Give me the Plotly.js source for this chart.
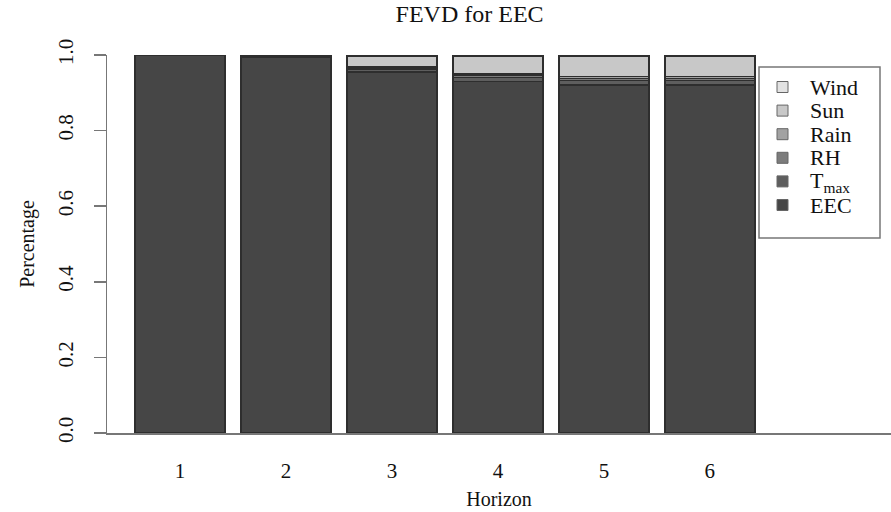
<!DOCTYPE html>
<html>
<head>
<meta charset="utf-8">
<script src="https://cdn.plot.ly/plotly-3.0.1.min.js"></script>
<style>html,body{margin:0;padding:0;background:#fff;}#chart{width:891px;height:512px;}</style>
</head>
<body>
<div id="chart"></div>
<script>
const horizons = [1, 2, 3, 4, 5, 6];
const tickLabels = ["1", "2", "3", "4", "5", "6"];
const seriesNames = ["EEC", "T<sub>max</sub>", "RH", "Rain", "Sun", "Wind"];
const EEC  = [1.000, 0.995, 0.955, 0.930, 0.920, 0.920];
const Tmax = [0.000, 0.003, 0.008, 0.010, 0.012, 0.012];
const RH   = [0.000, 0.001, 0.004, 0.006, 0.006, 0.006];
const Rain = [0.000, 0.001, 0.003, 0.004, 0.005, 0.005];
const Sun  = [0.000, 0.000, 0.027, 0.047, 0.054, 0.054];
const Wind = [0.000, 0.000, 0.003, 0.003, 0.003, 0.003];
const seriesValues = [EEC, Tmax, RH, Rain, Sun, Wind];
const colors = ["#464646", "#5e5e5e", "#7c7c7c", "#a2a2a2", "#c8c8c8", "#e2e2e2"];

const traces = seriesValues.map((vals, i) => ({
  type: "bar",
  x: horizons,
  y: vals,
  name: seriesNames[i],
  width: 0.85,
  marker: {color: colors[i], line: {color: "#2e2e2e", width: 1.5}},
  hoverinfo: "skip",
  showlegend: false
}));

// plot-area geometry (pixels) used to place the hand-drawn R-style legend
const W = 891, H = 512, L = 107, T = 55, B = 79;
const pw = W - L, ph = H - T - B;
const px = v => (v - L) / pw;
const py = v => (H - B - v) / ph;

const serif = "Liberation Serif, Times New Roman, serif";
const shapes = [{
  type: "rect", xref: "paper", yref: "paper",
  x0: px(759), x1: px(880), y0: py(238), y1: py(67),
  line: {color: "#777", width: 1.5}, fillcolor: "#ffffff", layer: "above"
}];
const annotations = [];
const rowTop = 87, rowStep = 23.6;
for (let k = 0; k < seriesNames.length; k++) {
  const i = seriesNames.length - 1 - k;
  const cy = rowTop + k * rowStep;
  shapes.push({
    type: "rect", xref: "paper", yref: "paper",
    x0: px(777), x1: px(788), y0: py(cy + 5.5), y1: py(cy - 5.5),
    line: {color: "#666", width: 1}, fillcolor: colors[i], layer: "above"
  });
  annotations.push({
    xref: "paper", yref: "paper", x: px(808), y: py(cy + (i === 1 ? 1 : 0)),
    xanchor: "left", yanchor: "middle", showarrow: false,
    text: seriesNames[i],
    font: {family: serif, size: 22, color: "#111"}
  });
}

const layout = {
  width: W, height: H,
  margin: {l: L, r: 0, t: T, b: B, pad: 0},
  paper_bgcolor: "#ffffff",
  plot_bgcolor: "#ffffff",
  barmode: "stack",
  bargap: 0,
  font: {family: serif, color: "#111", size: 20},
  title: {text: "FEVD for EEC", x: 0.527, xref: "container", xanchor: "center",
          y: 0.99, yanchor: "top",
          font: {family: serif, size: 24, color: "#111"}},
  xaxis: {
    range: [0.31, 7.71],
    tickvals: horizons, ticktext: tickLabels,
    showgrid: false, zeroline: false,
    showline: true, linecolor: "#777", linewidth: 1.5,
    ticks: "", ticklen: 0, ticklabelstandoff: 18,
    tickfont: {family: serif, size: 21, color: "#111"},
    title: {text: "Horizon", font: {family: serif, size: 20, color: "#111"}, standoff: 10}
  },
  yaxis: {
    range: [0, 1],
    tickvals: [0, 0.2, 0.4, 0.6, 0.8, 1.0],
    ticktext: ["0.0", "0.2", "0.4", "0.6", "0.8", "1.0"],
    tickangle: -90,
    showgrid: false, zeroline: false,
    showline: true, linecolor: "#777", linewidth: 1.5,
    ticks: "outside", ticklen: 12, tickwidth: 1.5, tickcolor: "#777",
    ticklabelstandoff: 12,
    tickfont: {family: serif, size: 21, color: "#111"},
    title: {text: "Percentage", font: {family: serif, size: 20, color: "#111"}, standoff: 14}
  },
  showlegend: false,
  shapes: shapes,
  annotations: annotations
};

Plotly.newPlot("chart", traces, layout, {displayModeBar: false, staticPlot: true});
</script>
</body>
</html>
